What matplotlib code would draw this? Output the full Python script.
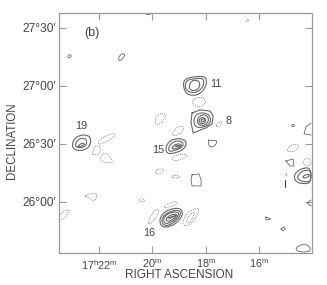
import matplotlib
matplotlib.use('Agg')
import matplotlib.pyplot as plt
from matplotlib.patches import PathPatch
from matplotlib.path import Path

plt.rcParams['font.family'] = ['Liberation Sans', 'DejaVu Sans']
plt.rcParams['mathtext.default'] = 'regular'

# contour outlines as (RA minutes past 17h, Dec arcmin past 26 deg)
src11_a = [(18.85,61.0),(18.77,63.6),(18.51,64.6),(18.10,65.1),(17.95,63.6),(17.99,59.5),(18.21,55.8),(18.51,54.8),(18.77,56.4)]
src11_b = [(18.77,60.5),(18.70,63.1),(18.47,63.6),(18.14,64.1),(18.06,62.6),(18.10,59.5),(18.29,56.9),(18.55,56.4),(18.74,57.9)]
src11_c = [(18.62,60.0),(18.55,62.6),(18.32,63.1),(18.21,61.5),(18.25,58.9),(18.40,57.4),(18.59,57.9)]

src8_a = [(18.51,46.0),(18.21,47.6),(17.84,47.0),(17.72,44.5),(17.76,40.3),(17.99,38.3),(18.47,35.7),(18.55,41.4)]
src8_b = [(18.44,43.4),(18.29,46.0),(17.95,46.0),(17.80,43.4),(17.84,40.3),(18.06,38.8),(18.32,38.3),(18.44,40.3)]
src8_c = [(18.32,42.9),(18.17,45.0),(17.99,45.0),(17.87,42.9),(17.95,40.3),(18.14,39.3),(18.29,40.3)]
src8_d = [(18.25,42.4),(18.14,43.9),(17.99,42.9),(18.02,40.8),(18.17,40.3),(18.25,41.4)]
src8_e = [(18.17,42.4),(18.10,43.2),(18.02,42.4),(18.10,41.4),(18.17,41.4)]

src15_a = [(19.52,26.9),(19.41,31.0),(19.15,32.8),(18.81,32.6),(18.70,30.0),(18.85,26.9),(19.15,25.3),(19.41,24.8)]
src15_b = [(19.41,27.4),(19.30,30.5),(19.07,31.8),(18.85,31.0),(18.85,28.4),(19.11,26.9),(19.34,25.9)]
src15_c = [(19.26,28.4),(19.11,30.0),(18.92,30.0),(18.92,28.4),(19.15,27.4),(19.26,27.4)]
src15_core = [(19.11,28.9),(18.96,29.0)]

src16_a = [(19.75,-10.3),(19.64,-6.2),(19.34,-3.6),(18.96,-3.1),(18.85,-5.7),(18.96,-9.3),(19.26,-12.4),(19.60,-13.4)]
src16_b = [(19.67,-9.8),(19.56,-6.7),(19.30,-4.7),(19.00,-4.1),(18.92,-6.2),(19.07,-9.3),(19.34,-11.9),(19.56,-12.4)]
src16_c = [(19.60,-9.3),(19.49,-6.7),(19.26,-5.2),(19.04,-5.2),(19.00,-6.7),(19.15,-9.3),(19.37,-10.9),(19.52,-11.4)]
src16_d = [(19.49,-8.8),(19.34,-6.7),(19.11,-6.2),(19.07,-7.2),(19.26,-9.3),(19.45,-10.3)]
src16_core = [(19.37,-8.3),(19.15,-7.2)]

src19_a = [(23.01,29.5),(22.94,32.6),(22.71,34.6),(22.41,34.6),(22.30,32.6),(22.34,29.0),(22.52,26.9),(22.82,26.4),(22.97,27.9)]
src19_b = [(22.90,29.5),(22.79,32.6),(22.56,33.1),(22.45,31.5),(22.49,29.0),(22.67,27.9),(22.86,28.4)]
src19_c = [(22.79,29.0),(22.64,30.5),(22.52,30.0),(22.64,28.9),(22.79,28.4)]

src1_a = [(14.05,17.6),(14.35,17.6),(14.61,15.5),(14.69,12.9),(14.61,10.3),(14.35,9.3),(14.05,9.8)]
src1_b = [(14.05,16.5),(14.35,16.3),(14.50,14.5),(14.57,12.4),(14.46,10.9),(14.20,10.3),(14.05,10.9)]
src1_c = [(14.35,13.4),(14.16,14.5),(14.09,13.4),(14.24,12.4),(14.35,12.4)]

solid_small = [
    [(23.18,75.5),(23.11,76.3),(23.03,75.7),(23.07,74.7),(23.16,74.4)],
    [(21.27,73.4),(21.25,75.5),(21.10,76.8),(21.02,76.3),(21.10,74.4),(21.21,72.9)],
    [(20.27,97.7),(20.20,96.7),(20.05,97.2),(20.01,97.7)],
    [(17.91,32.6),(17.84,31.5),(17.57,32.1),(17.61,29.5),(17.76,28.4),(17.87,28.4)],
    [(14.80,39.5),(14.72,40.3),(14.65,39.5),(14.72,38.8)],
    [(14.65,-24.3),(14.46,-22.2),(14.24,-21.7),(14.05,-23.8),(14.12,-25.9),(14.50,-25.9)],
]
solid_corner = [
    [(18.51,14.0),(18.25,14.5),(18.17,11.4),(18.17,8.3),(18.51,8.3),(18.55,11.4)],
    [(14.99,21.2),(14.72,22.2),(14.69,18.6),(14.84,18.6)],
    [(15.74,-7.8),(15.55,-8.8),(15.74,-9.3)],
    [(15.17,-14.0),(15.06,-12.9),(15.02,-14.0),(15.10,-15.0)],
]
solid_open = [
    [(14.05,1.0),(14.20,-0.5),(14.05,-2.1)],
    [(14.05,34.6),(14.31,35.2),(14.24,38.8),(14.05,40.8)],
]

dashed_loops = [
    [(19.90,42.4),(19.82,45.0),(19.60,46.0),(19.49,45.0),(19.56,42.4),(19.71,40.3),(19.86,39.8)],
    [(22.07,30.5),(21.85,33.6),(21.47,35.7),(21.36,34.6),(21.59,32.1),(21.96,29.5)],
    [(22.26,24.3),(22.19,28.4),(22.00,29.5),(21.92,26.9),(22.04,23.8),(22.19,24.8)],
    [(21.96,23.3),(21.77,25.9),(21.55,22.7),(21.47,20.2),(21.74,20.2),(21.92,21.2)],
    [(22.60,3.1),(22.34,4.1),(22.07,4.7),(22.11,1.0),(22.26,0.5),(22.41,2.6)],
    [(20.54,1.0),(20.39,2.1),(20.24,0.5),(20.39,0.0)],
    [(18.51,51.7),(18.40,53.8),(18.14,54.3),(17.99,52.7),(18.02,50.7),(18.21,49.1),(18.44,49.6)],
    [(17.61,39.8),(17.46,41.4),(17.39,41.9),(17.42,39.8),(17.57,38.8)],
    [(19.26,35.2),(19.15,37.7),(18.96,39.3),(18.81,38.8),(18.85,36.7),(19.04,34.6),(19.19,34.1)],
    [(19.30,22.7),(19.11,24.3),(18.74,24.8),(18.70,23.3),(18.96,21.7),(19.19,21.2)],
    [(19.90,15.5),(19.79,17.1),(19.60,17.1),(19.56,16.0),(19.71,14.5),(19.86,14.5)],
    [(19.30,13.0),(19.15,14.0),(18.96,13.4),(19.00,12.4),(19.22,12.4)],
    [(19.56,-2.1),(19.34,-0.5),(19.11,0.5),(19.07,-1.0),(19.34,-2.6),(19.52,-3.1)],
    [(20.16,-10.9),(20.05,-6.2),(19.79,-3.1),(19.75,-5.2),(19.86,-8.3),(20.09,-11.4)],
    [(18.89,-11.9),(18.77,-6.7),(18.51,-4.1),(18.25,-3.1),(18.29,-6.2),(18.44,-9.8),(18.66,-12.4)],
    [(18.74,-10.3),(18.62,-6.7),(18.40,-4.7),(18.47,-8.3),(18.62,-10.9)],
    [(14.95,27.4),(14.80,29.5),(14.50,30.0),(14.54,26.9),(14.76,25.9),(14.91,25.9)],
    [(14.39,20.7),(14.24,22.7),(14.05,22.2),(14.05,18.6),(14.27,18.6)],
    [(16.49,93.6),(16.41,94.6),(16.37,94.1),(16.45,93.1)],
    [(15.02,14.5),(14.95,15.0),(14.95,13.4)],
]
dashed_open = [
    [(23.50,-9.8),(23.35,-8.8),(23.24,-7.8),(23.12,-4.1),(23.31,-4.7),(23.46,-6.7)],
]

x_ticks = [22, 20, 18, 16]
x_labels = ['$17^{h}22^{m}$', '$20^{m}$', '$18^{m}$', '$16^{m}$']
y_ticks = [90, 60, 30, 0]
y_labels = ['27°30′', '27°00′', '26°30′', '26°00′']

src_names = ['19', '11', '8', '15', '16', 'I']
src_ra = [22.67, 17.61, 17.13, 19.79, 20.12, 15.02]
src_dec = [39.3, 61.0, 41.9, 26.9, -16.0, 8.8]
panel_ra = 22.28
panel_dec = 87.4

line_col = '#666666'
frame_col = '#999999'
text_col = '#444444'


# rounded closed curve, quadratic beziers between edge midpoints
def smooth_loop(ax, pts, **kw):
    mids = [((pts[i][0] + pts[i - 1][0]) / 2, (pts[i][1] + pts[i - 1][1]) / 2) for i in range(len(pts))]
    verts = [mids[0]]
    codes = [Path.MOVETO]
    for i in range(len(pts)):
        verts += [pts[i], mids[(i + 1) % len(pts)]]
        codes += [Path.CURVE3, Path.CURVE3]
    ax.add_patch(PathPatch(Path(verts, codes), fill=False, edgecolor=line_col, **kw))


def plain_line(ax, pts, closed=True, **kw):
    xs = [p[0] for p in pts]
    ys = [p[1] for p in pts]
    if closed:
        xs.append(xs[0])
        ys.append(ys[0])
    ax.plot(xs, ys, color=line_col, solid_joinstyle='round', **kw)


fig = plt.figure(figsize=(3.27, 2.85), dpi=100)
ax = fig.add_axes([58.5 / 327, 32 / 285, 253 / 327, 240 / 285])

rounded = [src11_a, src11_b, src11_c, src8_b, src8_c, src8_d, src8_e,
           src15_a, src15_b, src15_c, src16_a, src16_b, src16_c, src16_d,
           src19_a, src19_b, src19_c, src1_a, src1_b, src1_c]
for c in rounded:
    smooth_loop(ax, c, lw=0.8)
plain_line(ax, src8_a, lw=0.8)
for c in solid_small:
    smooth_loop(ax, c, lw=0.6)
for c in solid_corner:
    plain_line(ax, c, lw=0.6)
for c in solid_open:
    plain_line(ax, c, closed=False, lw=0.6)
for c in [src15_core, src16_core]:
    plain_line(ax, c, closed=False, lw=1.3)
for c in dashed_loops:
    smooth_loop(ax, c, lw=0.5, ls=(0, (1.5, 1.5)))
for c in dashed_open:
    plain_line(ax, c, closed=False, lw=0.5, ls=(0, (1.5, 1.5)))

ax.set_xlim(23.52, 14.03)
ax.set_ylim(-26.4, 97.7)
ax.set_xticks(x_ticks)
ax.set_xticklabels(x_labels)
ax.set_yticks(y_ticks)
ax.set_yticklabels(y_labels)
ax.tick_params(direction='in', top=True, right=True, length=5, width=0.8, color=frame_col,
               labelcolor=text_col, pad=1.5)
ax.tick_params(axis='y', labelsize=8.6)
ax.tick_params(axis='x', labelsize=7.8, pad=3.5)
for s in ax.spines.values():
    s.set_color(frame_col)
    s.set_linewidth(0.9)

ax.set_xlabel('RIGHT ASCENSION', fontsize=8.5, color=text_col)
ax.xaxis.set_label_coords(0.476, -0.067)
ax.set_ylabel('DECLINATION', fontsize=8.3, color=text_col)
ax.yaxis.set_label_coords(-0.16, 0.469)

for name, r, d in zip(src_names, src_ra, src_dec):
    ax.text(r, d, name, fontsize=7.8, color=text_col, ha='center', va='center')
ax.text(panel_ra, panel_dec, '(b)', fontsize=9, color=text_col, ha='center', va='center')

fig.savefig('out.png', dpi=100)
